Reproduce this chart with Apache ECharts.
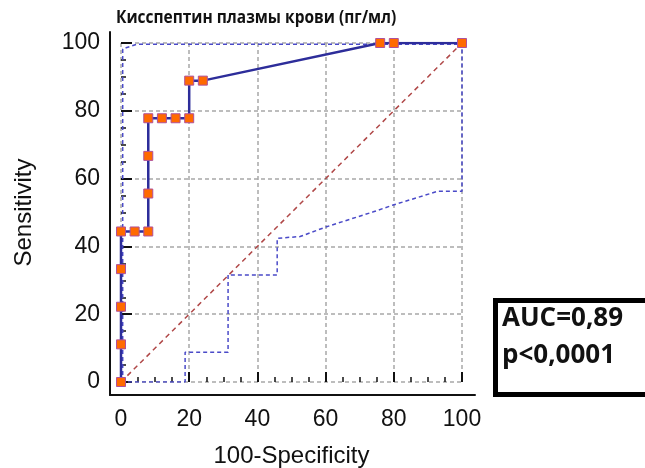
<!DOCTYPE html>
<html>
<head>
<meta charset="utf-8">
<script src="https://cdn.jsdelivr.net/npm/echarts@6/dist/echarts.min.js"></script>
<style>
  html, body { margin: 0; padding: 0; background: #fff; }
  #chart { width: 645px; height: 468px; }
</style>
</head>
<body>
<div id="chart"></div>
<script>
// ROC curve: 100-Specificity (x) vs Sensitivity (y), in percent
const rocX = [0, 0, 0, 0, 0, 4, 8, 8, 8, 8, 12, 16, 20, 20, 24, 76, 80, 100];
const rocY = [0, 11.1, 22.2, 33.3, 44.4, 44.4, 44.4, 55.6, 66.7, 77.8, 77.8, 77.8, 77.8, 88.9, 88.9, 100, 100, 100];

// upper confidence bound
const upperX = [0.5, 0.5, 1.5, 4.5, 100];
const upperY = [0, 98.2, 98.6, 99.6, 99.6];

// lower confidence bound (closes up to the upper bound at x = 100)
const lowerX = [0, 18.8, 18.8, 31.4, 31.4, 45.8, 45.8, 52.5, 60.3, 74, 79.8, 93, 100, 100];
const lowerY = [0, 0, 8.8, 8.8, 31.6, 31.6, 42.4, 42.9, 45.8, 50.2, 52.2, 56.3, 56.3, 99.6];

// chance line
const diagX = [0, 100];
const diagY = [0, 100];

const titleText = 'Кисспептин плазмы крови (пг/мл)';
const xName = '100-Specificity';
const yName = 'Sensitivity';
const aucText = 'AUC=0,89';
const pText = 'p<0,0001';

const pairs = (xs, ys) => xs.map((x, i) => [x, ys[i]]);

const tickFont = { fontFamily: 'Liberation Sans', fontSize: 23, color: '#111' };

const chart = echarts.init(document.getElementById('chart'), null, { renderer: 'canvas' });

chart.setOption({
  animation: false,
  backgroundColor: '#fff',
  grid: [
    // plotting area
    { left: 121, right: 183, top: 43, bottom: 86, outerBoundsMode: 'none' },
    // frame that carries the axis lines
    { left: 110, right: 170, top: 32, bottom: 73, outerBoundsMode: 'none' }
  ],
  xAxis: [
    {
      gridIndex: 0, type: 'value', min: 0, max: 100, interval: 20,
      offset: 13,
      name: xName, nameLocation: 'middle', nameGap: 49,
      nameTextStyle: { fontFamily: 'Liberation Sans', fontSize: 24, color: '#111' },
      axisLine: { show: false },
      axisTick: { show: true, inside: true, length: 10, lineStyle: { color: '#111', width: 2 } },
      minorTick: { show: true, splitNumber: 4, length: 5, lineStyle: { color: '#111', width: 1.5 } },
      axisLabel: Object.assign({ margin: 13 }, tickFont),
      splitLine: { show: true, lineStyle: { color: '#a8a8a8', type: [4, 3], width: 1.5 } }
    },
    {
      gridIndex: 1, type: 'value', min: 0, max: 1, position: 'bottom',
      axisLine: { show: true, onZero: false, lineStyle: { color: '#111', width: 2 } },
      axisTick: { show: false }, axisLabel: { show: false }, splitLine: { show: false }
    }
  ],
  yAxis: [
    {
      gridIndex: 0, type: 'value', min: 0, max: 100, interval: 20,
      offset: 11,
      name: yName, nameLocation: 'middle', nameGap: 74,
      nameTextStyle: { fontFamily: 'Liberation Sans', fontSize: 24, color: '#111' },
      axisLine: { show: false },
      axisTick: { show: true, inside: true, length: 11, lineStyle: { color: '#111', width: 2 } },
      minorTick: { show: true, splitNumber: 4, length: 5, lineStyle: { color: '#111', width: 1.5 } },
      axisLabel: Object.assign({ margin: 10 }, tickFont),
      splitLine: { show: true, lineStyle: { color: '#a8a8a8', type: [4, 3], width: 1.5 } }
    },
    {
      gridIndex: 1, type: 'value', min: 0, max: 1, position: 'left',
      axisLine: { show: true, onZero: false, lineStyle: { color: '#111', width: 2 } },
      axisTick: { show: false }, axisLabel: { show: false }, splitLine: { show: false }
    }
  ],
  series: [
    {
      type: 'line', xAxisIndex: 0, yAxisIndex: 0,
      data: pairs(diagX, diagY), symbol: 'none',
      lineStyle: { color: '#b04848', width: 1.5, type: [5, 4] }
    },
    {
      type: 'line', xAxisIndex: 0, yAxisIndex: 0,
      data: pairs(upperX, upperY), symbol: 'none',
      lineStyle: { color: '#4a4ac8', width: 1.5, type: [4, 3] }
    },
    {
      type: 'line', xAxisIndex: 0, yAxisIndex: 0,
      data: pairs(lowerX, lowerY), symbol: 'none',
      lineStyle: { color: '#4a4ac8', width: 1.5, type: [4, 3] }
    },
    {
      type: 'line', xAxisIndex: 0, yAxisIndex: 0,
      data: pairs(rocX, rocY),
      symbol: 'rect', symbolSize: 9,
      lineStyle: { color: '#2d2d9a', width: 2.5 },
      itemStyle: { color: '#ff6a00', borderColor: '#b0509a', borderWidth: 1 },
      z: 5
    }
  ],
  graphic: [
    {
      // chart title, set in a condensed bold face
      type: 'text', x: 116, y: 9, scaleX: 0.86, z: 11,
      style: { text: titleText, fill: '#111', font: 'bold 18px "Open Sans"' }
    },
    {
      type: 'rect', left: 493, top: 298, z: 10,
      shape: { width: 170, height: 94 },
      style: { fill: '#fff', stroke: '#000', lineWidth: 5 }
    },
    {
      type: 'text', x: 502, y: 306, z: 11,
      style: { text: aucText, fill: '#111', font: 'bold 26px "Open Sans"' }
    },
    {
      type: 'text', x: 502, y: 343, z: 11,
      style: { text: pText, fill: '#111', font: 'bold 26px "Open Sans"' }
    }
  ]
});
</script>
</body>
</html>
